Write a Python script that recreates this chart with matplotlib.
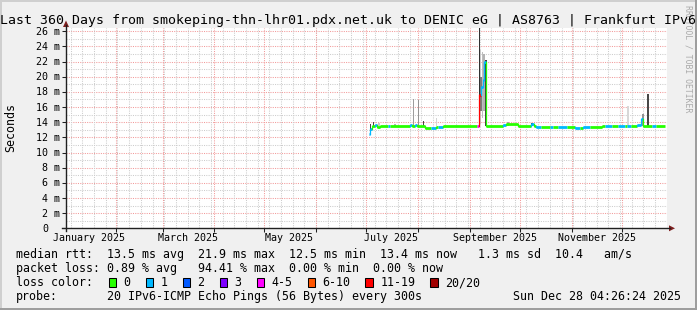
import matplotlib
matplotlib.use('Agg')
import matplotlib.pyplot as plt
import matplotlib.transforms as mtransforms
from matplotlib.patches import Rectangle, Polygon
from matplotlib.lines import Line2D
import pandas as pd

# ---- values ----
title = 'Last 360 Days from smokeping-thn-lhr01.pdx.net.uk to DENIC eG | AS8763 | Frankfurt IPv6'
t_start = '2025-01-02 04:26:24'
t_end = '2025-12-28 04:26:24'

# median rtt (ms) as steps: start time, value, loss bucket (index into loss_labels)
med_start = ['2025-07-02 16:00', '2025-07-03 12:00', '2025-07-04 12:00', '2025-07-06 00:00',
             '2025-07-07 12:00', '2025-07-09 00:00', '2025-07-14 00:00', '2025-07-15 12:00',
             '2025-07-27 00:00', '2025-07-28 12:00', '2025-07-30 00:00', '2025-07-31 12:00',
             '2025-08-05 00:00', '2025-08-09 00:00', '2025-08-12 00:00', '2025-08-13 00:00',
             '2025-08-16 00:00', '2025-09-05 12:00', '2025-09-06 18:00', '2025-09-07 18:00',
             '2025-09-08 18:00', '2025-09-09 18:00', '2025-09-10 18:00', '2025-09-21 00:00',
             '2025-09-23 00:00', '2025-09-30 00:00', '2025-10-08 00:00', '2025-10-09 12:00',
             '2025-10-10 12:00', '2025-10-14 00:00', '2025-10-19 00:00', '2025-10-21 00:00',
             '2025-10-24 00:00', '2025-10-29 00:00', '2025-11-03 00:00', '2025-11-06 00:00',
             '2025-11-08 00:00', '2025-11-12 00:00', '2025-11-19 00:00', '2025-11-21 00:00',
             '2025-11-25 12:00', '2025-11-29 00:00', '2025-12-03 00:00', '2025-12-04 12:00',
             '2025-12-06 12:00', '2025-12-10 00:00', '2025-12-12 18:00', '2025-12-13 18:00',
             '2025-12-19 00:00', '2025-12-21 12:00']
med_ms = [12.5, 13.1, 13.5, 13.6,
          13.4, 13.5, 13.5, 13.5,
          13.6, 13.5, 13.6, 13.5,
          13.2, 13.2, 13.3, 13.4,
          13.5, 13.5, 17.6, 18.6,
          19.5, 21.9, 13.5, 13.6,
          13.75, 13.5, 13.8, 13.45,
          13.3, 13.3, 13.3, 13.3,
          13.3, 13.3, 13.25, 13.25,
          13.3, 13.3, 13.55, 13.55,
          13.55, 13.55, 13.55, 13.55,
          13.55, 13.6, 14.4, 13.5,
          13.5, 13.5]
med_loss = [1, 1, 0, 1,
            0, 0, 1, 0,
            1, 0, 1, 0,
            0, 1, 0, 1,
            0, 4, 6, 1,
            1, 1, 0, 1,
            0, 0, 1, 0,
            1, 0, 1, 0,
            1, 0, 1, 0,
            1, 0, 0, 1,
            0, 1, 0, 1,
            0, 1, 1, 0,
            1, 0]
med_end = '2025-12-27 06:00'

# smoke: time, lowest and highest ping (ms), ping density (0 light .. 1 dark)
smoke_time = ['2025-07-03 12:00', '2025-07-05 12:00', '2025-07-08 17:00', '2025-07-18 07:00',
              '2025-07-29 05:00', '2025-08-01 05:00', '2025-08-04 05:00', '2025-08-12 05:00',
              '2025-09-07 12:00', '2025-09-08 12:00', '2025-09-09 12:00', '2025-09-07 18:00',
              '2025-09-06 21:00', '2025-09-10 19:00', '2025-09-24 00:00', '2025-10-08 07:00',
              '2025-12-04 19:00', '2025-12-13 00:00', '2025-12-13 19:00', '2025-12-16 19:00']
smoke_lo = [12.6, 13.3, 13.5, 13.5,
            13.5, 13.5, 13.5, 13.5,
            13.8, 14.5, 15.5, 15.5,
            13.5, 13.5, 13.5, 13.5,
            13.5, 13.5, 13.5, 13.5]
smoke_hi = [13.7, 14.0, 13.9, 13.8,
            17.1, 16.9, 14.1, 14.6,
            23.5, 23.3, 23.0, 20.0,
            26.4, 22.2, 14.0, 13.9,
            16.1, 14.3, 15.1, 17.7]
smoke_dens = [0.85, 0.85, 0.25, 0.35,
              0.45, 0.5, 0.85, 0.2,
              0.25, 0.3, 0.35, 0.6,
              0.95, 0.9, 0.4, 0.9,
              0.18, 0.85, 0.5, 0.85]

loss_labels = ['0', '1', '2', '3', '4-5', '6-10', '11-19', '20/20']
loss_colors = ['#26ff00', '#00b8ff', '#0059ff', '#7e00ff', '#ff00ff', '#ff5500', '#ff0000', '#a10000']

rtt_stats = [13.5, 21.9, 12.5, 13.4, 1.3, 10.4]   # avg, max, min, now, sd, am/s
loss_stats = [0.89, 94.41, 0.00, 0.00]            # avg, max, min, now
probe_text = '20 IPv6-ICMP Echo Pings (56 Bytes) every 300s'
stamp = 'Sun Dec 28 04:26:24 2025'

# ---- figure ----
W, H = 697, 310
plt.rcParams['font.family'] = 'DejaVu Sans Mono'
fig = plt.figure(figsize=(W / 100, H / 100), dpi=100, facecolor='#f0f0f0')


def fx(px):
    return px / W


def fy(py):
    return 1 - py / H


# 3d frame like rrdtool
fig.add_artist(Rectangle((0, 0), fx(2), 1, transform=fig.transFigure, color='#cfcfcf', lw=0))
fig.add_artist(Rectangle((0, fy(2)), 1, 2 / H, transform=fig.transFigure, color='#cfcfcf', lw=0))
fig.add_artist(Rectangle((fx(W - 2), 0), fx(2), 1, transform=fig.transFigure, color='#9e9e9e', lw=0))
fig.add_artist(Rectangle((0, 0), 1, 2 / H, transform=fig.transFigure, color='#9e9e9e', lw=0))

ax = fig.add_axes([fx(66), fy(228.3), 601 / W, 200.1 / H])
ax.set_facecolor('white')
ax.set_xlim(pd.Timestamp(t_start), pd.Timestamp(t_end))
ax.set_ylim(0, 26.4)
for s in ax.spines.values():
    s.set_visible(False)

# grid
for v in range(1, 27):
    col = '#f29a9a' if v % 2 == 0 else '#cccccc'
    ax.axhline(v, color=col, lw=0.75, dashes=(1, 1.2), zorder=0.5)
for d in pd.date_range('2025-01-05', t_end, freq='7D'):
    ax.axvline(d, color='#cccccc', lw=0.75, dashes=(1, 1.2), zorder=0.5)
months = pd.date_range('2025-02-01', t_end, freq='MS')
for d in months:
    ax.axvline(d, color='#f29a9a', lw=0.75, dashes=(1, 1.2), zorder=0.6)

# smoke
ax.bar(pd.to_datetime(smoke_time), [h - l for h, l in zip(smoke_hi, smoke_lo)], bottom=smoke_lo,
       width=0.75, color=[str(round(1 - 0.85 * d, 3)) for d in smoke_dens], lw=0, zorder=2)

# median line coloured by loss
starts = list(pd.to_datetime(med_start))
ends = starts[1:] + [pd.Timestamp(med_end)]
for i in range(len(starts)):
    ax.plot([starts[i], ends[i]], [med_ms[i], med_ms[i]], color=loss_colors[med_loss[i]],
            lw=2.0, solid_capstyle='butt', zorder=3)
    if i + 1 < len(starts):
        ax.plot([ends[i], ends[i]], [med_ms[i], med_ms[i + 1]], color=loss_colors[med_loss[i + 1]],
                lw=0.9, zorder=3)

# ticks
ax.set_yticks(range(0, 27, 2))
ax.set_xticks(months)
ax.tick_params(axis='both', length=3, width=0.75, color='#202020', labelleft=False, labelbottom=False)

ylab_tr = mtransforms.blended_transform_factory(fig.transFigure, ax.transData) + \
    mtransforms.ScaledTranslation(0, -3.6 / 100, fig.dpi_scale_trans)
for v in range(0, 27, 2):
    if v == 0:
        ax.text(fx(48), v, '0', transform=ylab_tr, ha='right', va='baseline', fontsize=7.2)
    else:
        ax.text(fx(59.5), v, f'{v} m', transform=ylab_tr, ha='right', va='baseline', fontsize=7.2)

xlab_tr = mtransforms.blended_transform_factory(ax.transData, fig.transFigure)
for m in ['2025-01-16', '2025-03-16', '2025-05-16', '2025-07-16', '2025-09-16', '2025-11-16']:
    d = pd.Timestamp(m)
    ax.text(d, fy(240.7), d.strftime('%B %Y'), transform=xlab_tr, ha='center', va='baseline',
            fontsize=7.2, clip_on=False)

# axes with arrows
fig.add_artist(Line2D([fx(62), fx(670)], [fy(228.3), fy(228.3)], color='#202020', lw=1.0))
fig.add_artist(Line2D([fx(66), fx(66)], [fy(231), fy(25)], color='#202020', lw=1.0))
fig.add_artist(Polygon([(fx(669), fy(225.3)), (fx(675), fy(228.3)), (fx(669), fy(231.3))],
                       closed=True, transform=fig.transFigure, color='#7f1f1f', lw=0))
fig.add_artist(Polygon([(fx(63), fy(27)), (fx(66), fy(20.5)), (fx(69), fy(27))],
                       closed=True, transform=fig.transFigure, color='#7f1f1f', lw=0))

# texts
fig.text(0.5, fy(24), title, ha='center', va='baseline', fontsize=9.5)
fig.text(fx(11), fy(127), 'Seconds', rotation=90, ha='center', va='center', fontsize=8.37)
fig.text(fx(688), fy(5), 'RRDTOOL / TOBI OETIKER', rotation=-90, ha='center', va='top',
         fontsize=5.9, color='#aaaaaa', zorder=0)

line1 = ('median rtt:  %.1f ms avg  %.1f ms max  %.1f ms min  %.1f ms now  %4.1f ms sd  %.1f   am/s'
         % tuple(rtt_stats))
line2 = 'packet loss: %.2f %% avg   %.2f %% max  %.2f %% min  %.2f %% now' % tuple(loss_stats)
fig.text(fx(16), fy(258.4), line1, ha='left', va='baseline', fontsize=8.37)
fig.text(fx(16), fy(272.3), line2, ha='left', va='baseline', fontsize=8.37)
fig.text(fx(16), fy(286.3), 'loss color:', ha='left', va='baseline', fontsize=8.37)
fig.text(fx(16), fy(300.2), 'probe:', ha='left', va='baseline', fontsize=8.37)
fig.text(fx(107), fy(300.2), probe_text, ha='left', va='baseline', fontsize=8.37)
fig.text(fx(513), fy(300.2), stamp, ha='left', va='baseline', fontsize=8.37)

x = 108.7
for lab, col in zip(loss_labels, loss_colors):
    fig.add_artist(Rectangle((fx(x), fy(286.5)), 7.3 / W, 8.2 / H, transform=fig.transFigure,
                             facecolor=col, edgecolor='black', lw=0.75))
    fig.text(fx(x + 14.7), fy(286.3), lab, ha='left', va='baseline', fontsize=8.37)
    x += 14.7 + 6.98 * len(lab) + 15.3

fig.savefig('out.png', dpi=100, facecolor=fig.get_facecolor())
